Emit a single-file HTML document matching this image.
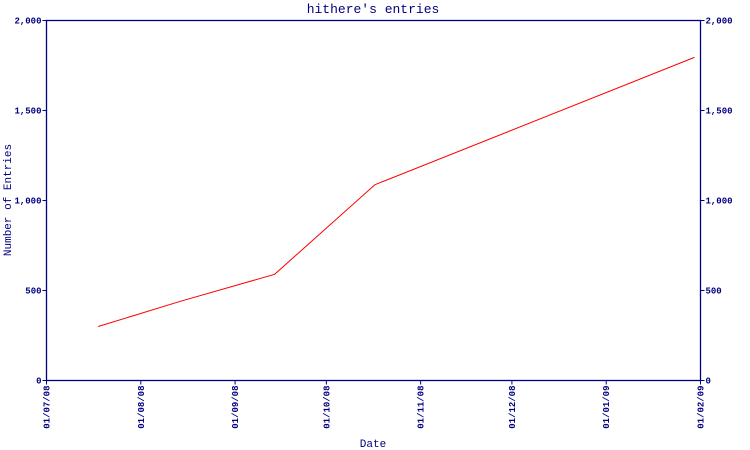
<!DOCTYPE html>
<html><head><meta charset="utf-8">
<style>
html,body{margin:0;padding:0;background:#fff;}
svg{display:block;}
text{font-family:"Liberation Mono","DejaVu Sans Mono",monospace;fill:#000080;}
</style></head>
<body>
<svg width="750" height="450" viewBox="0 0 750 450">
<g id="chart"></g>
</svg>
<script>
// Data
const tickLabels = ["01/07/08","01/08/08","01/09/08","01/10/08","01/11/08","01/12/08","01/01/09","01/02/09"];
const tickDays = [0,31,62,92,123,153,184,215];        // days since 01/07/08
const pointDays = [17,44,75,108,213];                  // days since 01/07/08
const pointValues = [300,440,590,1088,1795];
const yTicks = [0,500,1000,1500,2000];
const yTickLabels = ["0","500","1,000","1,500","2,000"];

const NS="http://www.w3.org/2000/svg";
const g=document.getElementById('chart');
const L=46.5,R=700.5,T=20.5,B=380.5,DMAX=215,VMAX=2000;
const xs=d=>L+(R-L)*d/DMAX;
const ys=v=>B-(B-T)*v/VMAX;
function mk(tag,attrs){const e=document.createElementNS(NS,tag);for(const k in attrs)e.setAttribute(k,attrs[k]);g.appendChild(e);return e;}

const frame=mk('rect',{x:L,y:T,width:R-L,height:B-T,fill:'none',stroke:'#000080','stroke-width':1.3});



const title=mk('text',{x:373,y:13,'text-anchor':'middle','font-size':13});
title.textContent="hithere's entries";



yTicks.forEach((v,i)=>{
  const y=ys(v);
  const t1=mk('line',{x1:L-4,x2:L,y1:y,y2:y,stroke:'#000080'});
  
  
  const t2=mk('line',{x1:R,x2:R+4,y1:y,y2:y,stroke:'#000080'});
  
  
  const a=mk('text',{x:L-5,y:y+3,'text-anchor':'end','font-size':9,'font-weight':'bold'});
  a.textContent=yTickLabels[i];
  
  
  const b=mk('text',{x:R+5,y:y+3,'text-anchor':'start','font-size':9,'font-weight':'bold'});
  b.textContent=yTickLabels[i];
  
  
});

tickDays.forEach((d,i)=>{
  const x=xs(d);
  const t=mk('line',{x1:x,x2:x,y1:B,y2:B+4,stroke:'#000080'});
  
  
  const lb=mk('text',{x:0,y:0,'text-anchor':'end','font-size':9,'font-weight':'bold',transform:`translate(${x+3},${B+5}) rotate(-90)`});
  lb.textContent=tickLabels[i];
  
  
});

const pts=pointDays.map((d,i)=>xs(d)+','+ys(pointValues[i])).join(' ');
const line=mk('polyline',{points:pts,fill:'none',stroke:'#ff0000','stroke-width':1});



const xt=mk('text',{x:373,y:447,'text-anchor':'middle','font-size':11});
xt.textContent="Date";



const yt=mk('text',{x:0,y:0,'text-anchor':'middle','font-size':11,transform:'translate(11,200) rotate(-90)'});
yt.textContent="Number of Entries";


</script>
</body></html>
